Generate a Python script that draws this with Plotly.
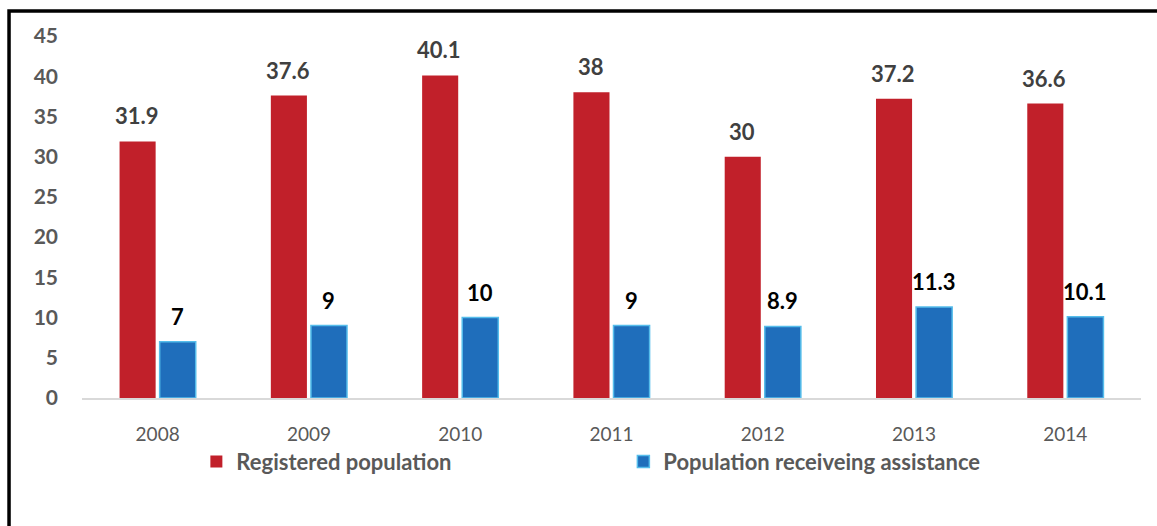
import plotly.graph_objects as go

years = ["2008", "2009", "2010", "2011", "2012", "2013", "2014"]
registered = [31.9, 37.6, 40.1, 38, 30, 37.2, 36.6]
assisted = [7, 9, 10, 9, 8.9, 11.3, 10.1]
y_ticks = [0, 5, 10, 15, 20, 25, 30, 35, 40, 45]

RED = "#C1202A"
BLUE = "#1F6EBB"
BLUE_EDGE = "#55BDEB"
FONT = "Lato, 'Open Sans', sans-serif"

fig = go.Figure()
fig.add_trace(go.Bar(
    x=years, y=registered, name="<b>Registered population</b>",
    marker=dict(color=RED, line=dict(color=RED, width=0)),
))
fig.add_trace(go.Bar(
    x=years, y=assisted, name="<b>Population receiveing assistance</b>",
    marker=dict(color=BLUE, line=dict(color=BLUE_EDGE, width=1.5)),
))

annotations = []
for i, v in enumerate(registered):
    annotations.append(dict(x=i, y=v, xref="x", yref="y", text=f"<b>{v:g}</b>",
                            showarrow=False, yanchor="bottom", xshift=-21, yshift=10,
                            font=dict(family=FONT, size=22, color="#404040")))
for i, v in enumerate(assisted):
    annotations.append(dict(x=i, y=v, xref="x", yref="y", text=f"<b>{v:g}</b>",
                            showarrow=False, yanchor="bottom", xshift=20, yshift=10,
                            font=dict(family=FONT, size=22, color="#000000")))

fig.update_layout(
    width=1157, height=526,
    margin=dict(l=82, r=16, t=36, b=128),
    paper_bgcolor="white", plot_bgcolor="white",
    barmode="group", bargap=0.47, bargroupgap=0.1,
    font=dict(family=FONT),
    showlegend=True,
    legend=dict(orientation="h", x=0.108, y=-0.118, xanchor="left", yanchor="top",
                entrywidth=382, entrywidthmode="pixels", itemwidth=30,
                font=dict(family=FONT, size=22, color="#595959")),
    annotations=annotations,
    shapes=[dict(type="rect", xref="paper", yref="paper",
                 x0=-0.0689, x1=1.2, y0=-0.6, y1=1.069,
                 line=dict(color="black", width=3.5), fillcolor="rgba(0,0,0,0)",
                 layer="above")],
)
fig.update_xaxes(type="category", range=[-0.5, len(years) - 0.5], autorange=False,
                 showgrid=False, showline=True, linecolor="#D9D9D9",
                 linewidth=1.5, ticks="", ticklabelstandoff=18,
                 tickfont=dict(family=FONT, size=19, color="#595959"))
fig.update_yaxes(range=[0, 45], autorange=False, tickvals=y_ticks,
                 ticktext=[f"<b>{t}</b>" for t in y_ticks],
                 showgrid=False, showline=False, zeroline=False, ticks="",
                 ticklabelstandoff=23,
                 tickfont=dict(family=FONT, size=21, color="#595959"))

fig.write_html("out.html", config={"displayModeBar": False},
               post_script="document.body.style.margin='0';")
